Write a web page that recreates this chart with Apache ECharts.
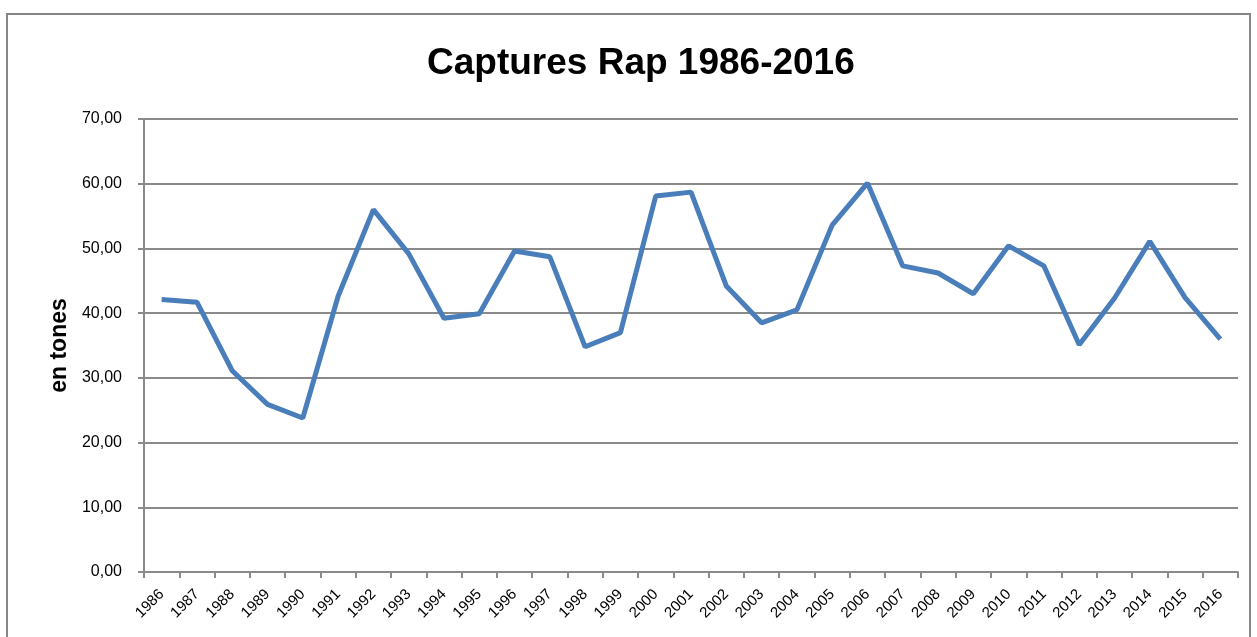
<!DOCTYPE html>
<html>
<head>
<meta charset="utf-8">
<script src="https://cdn.jsdelivr.net/npm/echarts@6/dist/echarts.min.js"></script>
<style>
  html, body { margin: 0; padding: 0; background: #fff; }
  #main { width: 1257px; height: 637px; }
</style>
</head>
<body>
<div id="main"></div>
<script>
// années
var years = ['1986', '1987', '1988', '1989', '1990', '1991', '1992', '1993', '1994', '1995',
    '1996', '1997', '1998', '1999', '2000', '2001', '2002', '2003', '2004', '2005',
    '2006', '2007', '2008', '2009', '2010', '2011', '2012', '2013', '2014', '2015', '2016'];
// captures (tones)
var captures = [42.1, 41.7, 31.1, 25.9, 23.8, 42.6, 56.0, 49.2, 39.2, 39.9,
    49.6, 48.7, 34.8, 37.0, 58.1, 58.7, 44.2, 38.5, 40.5, 53.6,
    60.1, 47.3, 46.2, 43.0, 50.4, 47.3, 35.1, 42.3, 51.1, 42.4, 36.0];
var yTicks = { min: 0, max: 70, step: 10 };

var chart = echarts.init(document.getElementById('main'));
var gris = '#8a8a8a';
var font = 'Liberation Sans';

chart.setOption({
    animation: false,
    title: {
        text: 'Captures Rap 1986-2016',
        left: 422,
        top: 40,
        textStyle: { fontFamily: font, fontWeight: 'bold', fontSize: 37, color: '#000' }
    },
    graphic: [{
        type: 'rect',
        shape: { x: 7, y: 14, width: 1243, height: 640 },
        style: { fill: 'none', stroke: '#868686', lineWidth: 2 },
        silent: true
    }],
    grid: { left: 144, right: 19, top: 119, bottom: 65 },
    xAxis: {
        type: 'category',
        data: years,
        boundaryGap: true,
        axisLine: { lineStyle: { color: gris, width: 2 } },
        axisTick: { show: true, length: 6, lineStyle: { color: gris, width: 2 } },
        axisLabel: {
            interval: 0, rotate: 45, margin: 20,
            fontFamily: font, fontSize: 15, color: '#000'
        }
    },
    yAxis: {
        type: 'value',
        min: yTicks.min, max: yTicks.max, interval: yTicks.step,
        name: 'en tones',
        nameLocation: 'middle',
        nameGap: 72,
        nameTextStyle: { fontFamily: font, fontWeight: 'bold', fontSize: 23, color: '#000' },
        axisLine: { show: true, lineStyle: { color: gris, width: 2 } },
        axisTick: { show: true, length: 6, lineStyle: { color: gris, width: 2 } },
        axisLabel: {
            margin: 22, fontFamily: font, fontSize: 16, color: '#000',
            formatter: function (v) { return v.toFixed(2).replace('.', ','); }
        },
        splitLine: { lineStyle: { color: gris, width: 2 } }
    },
    series: [{
        type: 'line',
        data: captures,
        symbol: 'none',
        lineStyle: { color: '#4a7ebb', width: 5 }
    }]
});
</script>
</body>
</html>
